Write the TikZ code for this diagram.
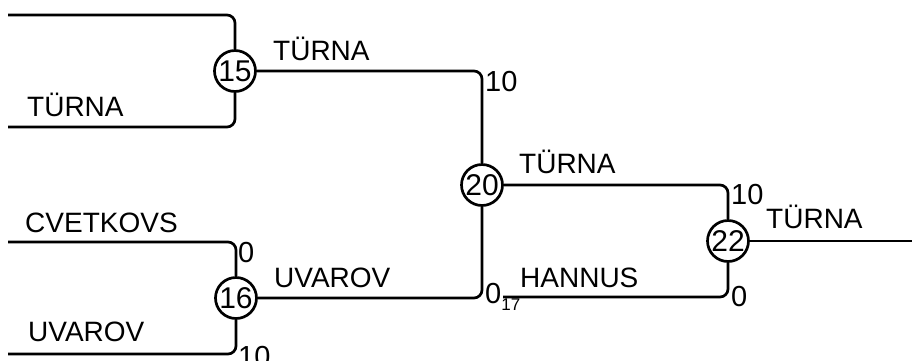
\documentclass[tikz,border=0pt]{standalone}
\usepackage{fontspec}
\setmainfont{Liberation Sans}
\usepackage{tikz}

\tikzset{
	match/.style={draw,circle,line width=2.7pt,minimum size=41pt,inner sep=0pt,font=\fontsize{30}{30}\selectfont},
	player/.style={anchor=base west,inner sep=0pt,font=\fontsize{28}{28}\selectfont},
	score/.style={inner sep=0pt,font=\fontsize{29}{29}\selectfont},
	bracket/.style={line width=2.7pt,rounded corners=8pt}
}

\begin{document}
\begin{tikzpicture}[x=1pt,y=-1pt]
		\useasboundingbox (0,0) rectangle (912,360);
		\node[match] (m15) at (235,71) {15};
		\node[match] (m16) at (236,298) {16};
		\node[match] (m20) at (482,185) {20};
		\node[match] (m22) at (728,241) {22};
		\coordinate (in15a) at (8,15);
		\coordinate (in15b) at (8,127);
		\coordinate (in16a) at (8,242);
		\coordinate (in16b) at (8,354);
		\coordinate (in22b) at (503,297);
		\coordinate (out) at (912,241);
		
		\draw[bracket] (in15a) -| (m15);
		\draw[bracket] (in15b) -| (m15);
		\draw[bracket] (in16a) -| (m16);
		\draw[bracket] (in16b) -| (m16);
		\draw[bracket] (m15) -| (m20);
		\draw[bracket] (m16) -| (m20);
		\draw[bracket] (m20) -| (m22);
		\draw[bracket] (in22b) -| (m22);
		\draw[bracket] (m22) -- (out);
		
		\node[player] (t15b) at (27,116) {TÜRNA};
		\node[player] (c16a) at (25,232) {CVETKOVS};
		\node[player] (u16b) at (28,341) {UVAROV};
		\node[player] (t15) at (273,60) {TÜRNA};
		\node[player] (u16) at (274,287) {UVAROV};
		\node[player] (t20) at (519,173) {TÜRNA};
		\node[player] (h17) at (520,287) {HANNUS};
		\node[player] (t22) at (766,228) {TÜRNA};
		
		\node[score,anchor=north west] (s16a) at (238,242) {0};
		\node[score,anchor=west] (s16b) at (238,357) {10};
		\node[score,anchor=north west] (s20a) at (485,71) {10};
		\node[score,anchor=west] (s20b) at (485,297) {0\raisebox{-7pt}{\fontsize{17}{17}\selectfont 17}};
		\node[score,anchor=north west] (s22a) at (731,184) {10};
		\node[score,anchor=west] (s22b) at (731,297) {0};
\end{tikzpicture}
\end{document}
